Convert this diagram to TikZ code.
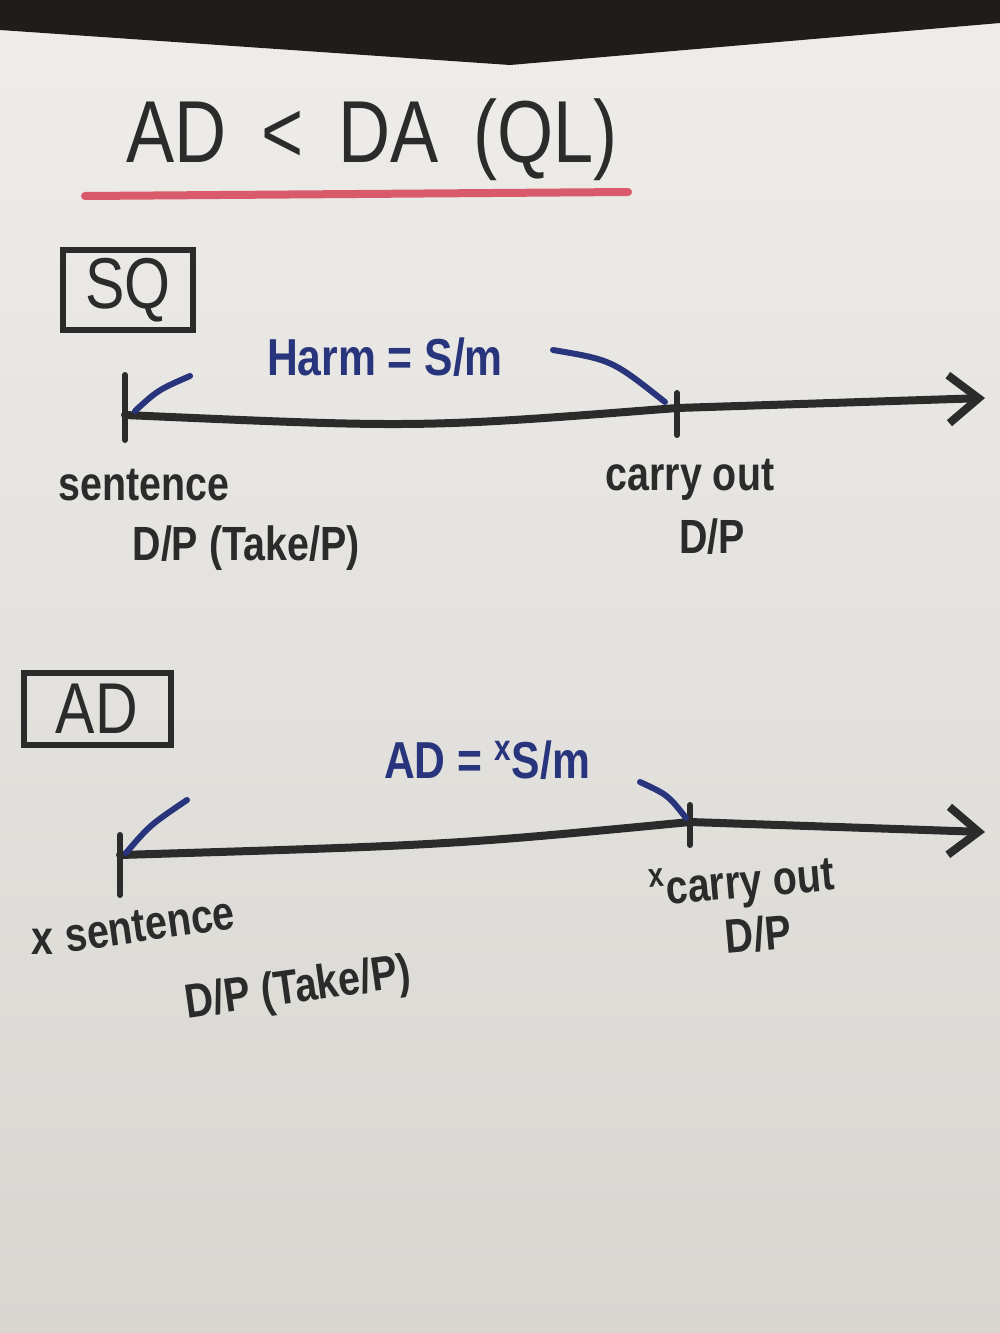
\documentclass[tikz,border=0pt]{standalone}
\usepackage{fontspec}
\setmainfont{Liberation Sans}
\newfontfamily\hand[FakeStretch=0.82]{Liberation Sans}
\usetikzlibrary{arrows.meta,positioning}
\definecolor{ink}{HTML}{2B2B2B}
\definecolor{pen}{HTML}{28347C}
\definecolor{marker}{HTML}{D85A6B}
\definecolor{paper}{HTML}{EEEDEA}
\definecolor{paperlow}{HTML}{D8D6D1}
\definecolor{backdrop}{HTML}{1F1D1B}
\begin{document}
\begin{tikzpicture}[x=0.5pt,y=-0.5pt,line cap=round,>={Straight Barb[length=15pt,width=24pt,line width=4pt]},
 lbl/.style={font=\hand\bfseries\fontsize{24}{26}\selectfont,text=ink,inner sep=0pt},
 blu/.style={font=\hand\bfseries\fontsize{26}{28}\selectfont,text=pen,inner sep=0pt},
 tag/.style={draw=ink,line width=3pt,font=\hand\fontsize{36}{38}\selectfont,text=ink,inner sep=0pt},
 axis/.style={draw=ink,line width=4pt,->},
 tick/.style={draw=ink,line width=3pt},
 hook/.style={draw=pen,line width=3pt}]
\useasboundingbox (0,0) rectangle (1000,1333);
\shade[top color=paper,bottom color=paperlow] (0,0) rectangle (1000,1333);
\fill[backdrop] (0,0) -- (1000,0) -- (1000,23) -- (510,65) -- (0,30) -- cycle;
%title
\node[font=\hand\fontsize{44}{46}\selectfont,text=ink,inner sep=0pt] (title) at (372,140) {AD \,<\, DA \,(QL)};
\coordinate (ulL) at (85,196);
\coordinate (ulR) at (628,192);
\draw[marker,line width=4pt] (ulL) -- (ulR);
%SQ
\node[tag,minimum width=65pt,minimum height=40pt] (sq) at (128,290) {SQ};
\node[blu] (harm) at (385,357) {Harm = S/m};
\coordinate (sqStart) at (125,415);
\coordinate (sqMid) at (677,408);
\coordinate (sqEnd) at (985,398);
\draw[axis] (sqStart) .. controls (420,428) .. (sqMid) -- (sqEnd);
\draw[tick] ([yshift=20pt]sqStart) -- ([yshift=-12.5pt]sqStart);
\draw[tick] ([yshift=7.5pt]sqMid) -- ([yshift=-13.5pt]sqMid);
\coordinate (sqHookA) at (190,376);
\coordinate (sqHookB) at (553,350);
\draw[hook] (sqHookA) .. controls (158,390) .. ([xshift=5pt,yshift=2pt]sqStart);
\draw[hook] (sqHookB) .. controls (612,360) .. ([xshift=-6pt,yshift=3pt]sqMid);
\node[lbl] (sqSent) at (144,485) {sentence};
\node[lbl] (sqTake) at (246,548) {D/P (Take/P)};
\node[lbl] (sqCarry) at (690,480) {carry out};
\node[lbl] (sqDP) at (712,537) {D/P};
%AD
\node[tag,minimum width=73.5pt,minimum height=36pt] (ad) at (97,709) {AD};
\node[blu] (adHarm) at (487,760) {AD = \textsuperscript{x}S/m};
\coordinate (adStart) at (120,855);
\coordinate (adMid) at (690,822);
\coordinate (adEnd) at (985,832);
\draw[axis] (adStart) .. controls (450,845) .. (adMid) -- (adEnd);
\draw[tick] ([yshift=10pt]adStart) -- ([yshift=-20pt]adStart);
\draw[tick] ([yshift=8.5pt]adMid) -- ([yshift=-11.5pt]adMid);
\coordinate (adHookA) at (187,800);
\coordinate (adHookB) at (640,782);
\draw[hook] (adHookA) .. controls (150,825) .. ([xshift=3pt,yshift=1pt]adStart);
\draw[hook] (adHookB) .. controls (668,795) .. ([xshift=-2pt,yshift=2pt]adMid);
\node[lbl] (adX) at (42,942) {x};
\node[lbl,rotate=8] (adSent) at (150,925) {sentence};
\node[lbl,rotate=8] (adTake) at (298,990) {D/P (Take/P)};
\node[lbl,rotate=5] (adCarry) at (742,885) {\textsuperscript{x}carry out};
\node[lbl,rotate=5] (adDP) at (758,934) {D/P};
\end{tikzpicture}
\end{document}
